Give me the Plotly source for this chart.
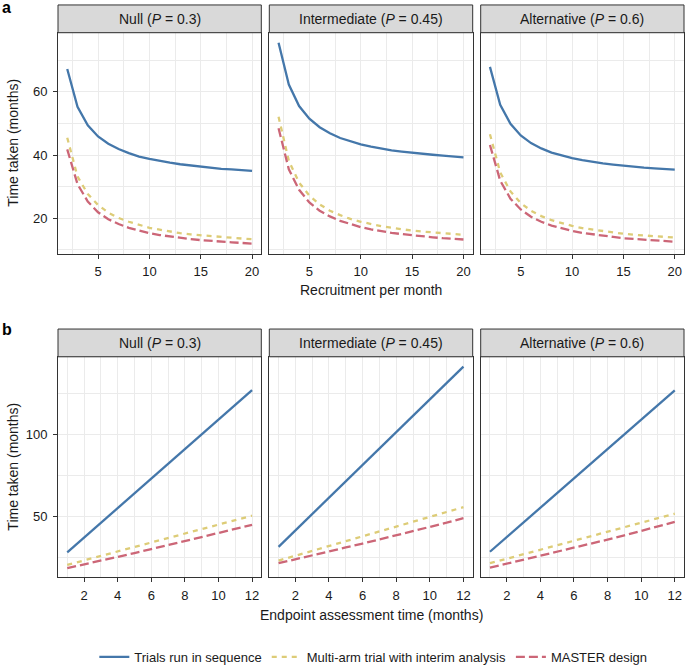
import plotly.graph_objects as go

# ---- data ----
panels = ["Null (<i>P</i> = 0.3)", "Intermediate (<i>P</i> = 0.45)", "Alternative (<i>P</i> = 0.6)"]
series_names = ["Trials run in sequence", "Multi-arm trial with interim analysis", "MASTER design"]

# panel a: recruitment per month
recruitment = list(range(2, 21))
a_null_seq = [67.2, 55.3, 49.4, 45.9, 43.6, 41.9, 40.6, 39.5, 38.8, 38.1, 37.6, 37.1, 36.7, 36.4, 36.0, 35.6, 35.5, 35.3, 35.0]
a_null_multi = [45.5, 33.2, 27.7, 24.2, 21.8, 20.1, 18.9, 17.9, 17.0, 16.4, 15.8, 15.3, 14.9, 14.6, 14.3, 14.0, 13.8, 13.6, 13.4]
a_null_master = [41.8, 30.8, 25.3, 21.9, 19.7, 18.2, 17.0, 16.1, 15.3, 14.7, 14.2, 13.8, 13.4, 13.1, 12.8, 12.6, 12.4, 12.2, 12.0]
a_int_seq = [75.5, 62.3, 55.5, 51.5, 48.8, 46.9, 45.4, 44.3, 43.4, 42.7, 42.0, 41.5, 41.1, 40.7, 40.4, 40.1, 39.8, 39.6, 39.3]
a_int_multi = [52.1, 38.2, 31.3, 27.2, 24.4, 22.4, 21.0, 19.8, 18.9, 18.1, 17.5, 17.0, 16.5, 16.1, 15.8, 15.5, 15.2, 15.0, 14.8]
a_int_master = [48.5, 35.5, 29.0, 25.0, 22.4, 20.6, 19.2, 18.1, 17.2, 16.5, 15.9, 15.4, 15.0, 14.6, 14.3, 14.0, 13.7, 13.5, 13.3]
a_alt_seq = [67.9, 55.9, 49.9, 46.2, 43.8, 42.1, 40.8, 39.8, 39.0, 38.4, 37.8, 37.4, 37.0, 36.6, 36.3, 36.0, 35.8, 35.6, 35.4]
a_alt_multi = [46.6, 34.5, 28.5, 24.8, 22.4, 20.7, 19.4, 18.4, 17.6, 16.9, 16.4, 15.9, 15.5, 15.1, 14.8, 14.6, 14.3, 14.1, 13.9]
a_alt_master = [43.2, 31.9, 26.2, 22.8, 20.5, 18.9, 17.7, 16.8, 16.0, 15.4, 14.9, 14.4, 14.1, 13.7, 13.5, 13.2, 13.0, 12.8, 12.6]

# panel b: endpoint assessment time (months)
endpoint = list(range(1, 13))
b_null_seq = [28.0, 37.0, 46.0, 55.0, 64.0, 73.0, 82.0, 91.0, 100.0, 109.0, 118.0, 127.0]
b_null_multi = [20.4, 23.1, 25.9, 28.6, 31.3, 34.0, 36.8, 39.5, 42.2, 44.9, 47.7, 50.4]
b_null_master = [18.4, 20.6, 22.9, 25.2, 27.6, 30.0, 32.4, 34.8, 37.3, 39.8, 42.3, 44.8]
b_int_seq = [31.4, 41.4, 51.4, 61.4, 71.4, 81.3, 91.3, 101.3, 111.3, 121.3, 131.3, 141.3]
b_int_multi = [23.0, 26.0, 28.9, 31.9, 34.9, 37.8, 40.8, 43.7, 46.7, 49.7, 52.6, 55.6]
b_int_master = [21.4, 23.7, 26.1, 28.5, 31.0, 33.4, 35.9, 38.4, 40.9, 43.4, 46.1, 48.9]
b_alt_seq = [28.4, 37.3, 46.3, 55.2, 64.2, 73.1, 82.1, 91.0, 99.9, 108.9, 117.8, 126.8]
b_alt_multi = [21.4, 24.1, 26.9, 29.6, 32.4, 35.1, 37.9, 40.6, 43.4, 46.1, 48.9, 51.6]
b_alt_master = [18.7, 21.1, 23.5, 25.9, 28.4, 30.8, 33.3, 35.8, 38.4, 41.0, 43.8, 46.6]

rows = [
    (recruitment, [[a_null_seq, a_null_multi, a_null_master],
                   [a_int_seq, a_int_multi, a_int_master],
                   [a_alt_seq, a_alt_multi, a_alt_master]]),
    (endpoint, [[b_null_seq, b_null_multi, b_null_master],
                [b_int_seq, b_int_multi, b_int_master],
                [b_alt_seq, b_alt_multi, b_alt_master]]),
]

# ---- styling ----
W, H = 685, 672
FONT = "Liberation Sans, Arial, Helvetica, sans-serif"
TXT = "#1A1A1A"
styles = [
    dict(color="#4477AA", width=2.3),
    dict(color="#DDCC77", width=2.3, dash="5px,5px"),
    dict(color="#CC6677", width=2.3, dash="9px,4px"),
]

col_px = [(58, 261.3), (269.3, 472.7), (480.7, 684)]
row_px = [(33, 256), (360, 582.7)]        # plot area top/bottom
strip_h = 28
x_ranges = [[1.1, 20.9], [0.45, 12.55]]
x_dtick = [(5, 2.5), (2, 1)]
y_ranges = [[8.8, 78.7], [12.7, 147.3]]
y_dtick = [(20, 10), (50, 25)]


def xd(l, r):
    return [l / W, r / W]


def yd(top, bottom):
    return [1 - bottom / H, 1 - top / H]


fig = go.Figure()
layout = dict(
    width=W, height=H, margin=dict(l=0, r=0, t=0, b=0),
    paper_bgcolor="white", plot_bgcolor="white",
    font=dict(family=FONT, color=TXT, size=13),
    showlegend=True,
    legend=dict(orientation="h", x=0.545, xanchor="center", y=1 - 663 / H, yanchor="middle",
                font=dict(size=13, color=TXT), bgcolor="rgba(0,0,0,0)"),
)
shapes = []
annotations = []

axis_common = dict(
    showline=True, mirror=True, linecolor="#333333", linewidth=1,
    ticks="outside", ticklen=4, tickwidth=1, tickcolor="#333333",
    tickfont=dict(size=13, color=TXT),
    showgrid=True, gridcolor="#EBEBEB", gridwidth=1, zeroline=False,
)

for r, (xs, panel_data) in enumerate(rows):
    top, bottom = row_px[r]
    for c in range(3):
        i = r * 3 + c + 1
        xname = "x" if i == 1 else f"x{i}"
        yname = "y" if i == 1 else f"y{i}"
        l, rr = col_px[c]
        for k, ys in enumerate(panel_data[c]):
            fig.add_trace(go.Scatter(
                x=xs, y=ys, xaxis=xname, yaxis=yname, mode="lines",
                line=styles[k], name=series_names[k], legendgroup=series_names[k],
                showlegend=(i == 1), hoverinfo="skip",
            ))
        layout["xaxis" if i == 1 else f"xaxis{i}"] = dict(
            axis_common, domain=xd(l, rr), anchor=yname, range=x_ranges[r],
            tick0=0, dtick=x_dtick[r][0], ticklabelstandoff=2,
            minor=dict(tick0=0, dtick=x_dtick[r][1], showgrid=True, gridcolor="#EBEBEB", gridwidth=0.6),
        )
        layout["yaxis" if i == 1 else f"yaxis{i}"] = dict(
            axis_common, domain=yd(top, bottom), anchor=xname, range=y_ranges[r],
            tick0=0, dtick=y_dtick[r][0], ticklabelstandoff=3,
            showticklabels=(c == 0), ticks="outside" if c == 0 else "",
            minor=dict(tick0=0, dtick=y_dtick[r][1], showgrid=True, gridcolor="#EBEBEB", gridwidth=0.6),
        )
        # facet strip
        shapes.append(dict(type="rect", xref="paper", yref="paper",
                           x0=l / W, x1=rr / W, y0=1 - top / H, y1=1 - (top - strip_h) / H,
                           fillcolor="#D9D9D9", line=dict(color="#333333", width=1), layer="above"))
        annotations.append(dict(text=panels[c], xref="paper", yref="paper",
                                x=(l + rr) / 2 / W, y=1 - (top - strip_h / 2) / H,
                                showarrow=False, xanchor="center", yanchor="middle",
                                font=dict(size=14, color=TXT)))
    # shared axis titles
    annotations.append(dict(text="Time taken (months)", xref="paper", yref="paper",
                            x=13.5 / W, y=1 - (top + bottom) / 2 / H, textangle=-90,
                            showarrow=False, xanchor="center", yanchor="middle",
                            font=dict(size=14, color=TXT)))

annotations.append(dict(text="Recruitment per month", xref="paper", yref="paper",
                        x=371 / W, y=1 - 293 / H, showarrow=False,
                        xanchor="center", yanchor="middle", font=dict(size=14, color=TXT)))
annotations.append(dict(text="Endpoint assessment time (months)", xref="paper", yref="paper",
                        x=371 / W, y=1 - 621 / H, showarrow=False,
                        xanchor="center", yanchor="middle", font=dict(size=14, color=TXT)))
# panel letters
annotations.append(dict(text="<b>a</b>", xref="paper", yref="paper", x=0, y=1,
                        showarrow=False, xanchor="left", yanchor="top", yshift=3,
                        font=dict(size=16, color="black")))
annotations.append(dict(text="<b>b</b>", xref="paper", yref="paper", x=0, y=1 - 332 / H,
                        showarrow=False, xanchor="left", yanchor="middle",
                        font=dict(size=16, color="black")))

layout["shapes"] = shapes
layout["annotations"] = annotations
fig.update_layout(**layout)

# drop the default page margin so the figure sits at the window's top-left corner
fig.write_html("out.html", config={"displayModeBar": False},
               post_script="document.body.style.margin='0';document.body.style.overflow='hidden';")
